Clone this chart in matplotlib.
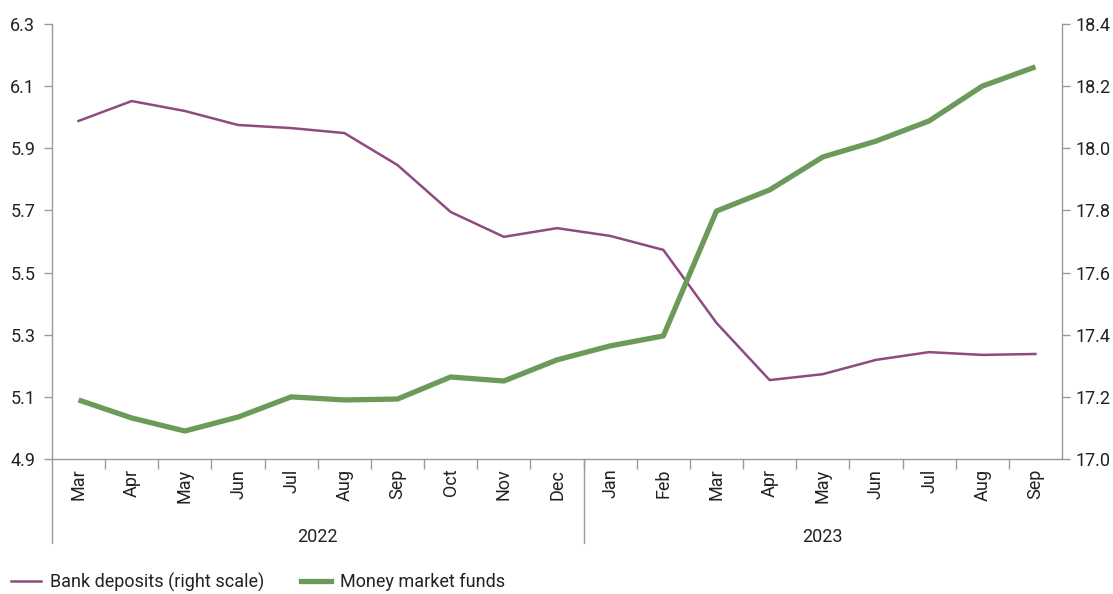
import matplotlib
matplotlib.use("Agg")
import matplotlib.pyplot as plt
import numpy as np
from matplotlib.lines import Line2D

plt.rcParams['font.family'] = ['Roboto', 'DejaVu Sans']

months = ["Mar", "Apr", "May", "Jun", "Jul", "Aug", "Sep", "Oct", "Nov", "Dec",
          "Jan", "Feb", "Mar", "Apr", "May", "Jun", "Jul", "Aug", "Sep"]
years = ["2022", "2023"]
money_market = [5.09, 5.032, 4.99, 5.035, 5.10, 5.09, 5.093, 5.164, 5.151, 5.219,
                5.264, 5.296, 5.698, 5.766, 5.872, 5.923, 5.988, 6.10, 6.162]
bank_deposits = [18.088, 18.152, 18.12, 18.075, 18.065, 18.049, 17.946, 17.795, 17.715, 17.743,
                 17.718, 17.673, 17.438, 17.254, 17.273, 17.319, 17.344, 17.335, 17.338]
left_ticks = [4.9, 5.1, 5.3, 5.5, 5.7, 5.9, 6.1, 6.3]
right_ticks = [17.0, 17.2, 17.4, 17.6, 17.8, 18.0, 18.2, 18.4]

purple = "#8f4a80"
green = "#6b9a59"
grey = "#9a9a9a"
txt = "#222222"
fs = 13

W, H = 1113, 594
fig = plt.figure(figsize=(W / 100, H / 100), dpi=100)
ax = fig.add_axes([52 / W, 1 - 459 / H, (1062 - 52) / W, (459 - 24) / H])
ax2 = ax.twinx()

x = np.arange(len(months))
ax.plot(x, money_market, color=green, lw=3.8, solid_capstyle='butt', zorder=3)
ax2.plot(x, bank_deposits, color=purple, lw=1.8, zorder=2)
ax.set_zorder(ax2.get_zorder() + 1)
ax.patch.set_visible(False)

ax.set_xlim(-0.5, len(months) - 0.5)
ax.set_ylim(4.9, 6.3)
ax2.set_ylim(17.0, 18.4)
ax.set_yticks(left_ticks)
ax.set_yticklabels([f"{v:.1f}" for v in left_ticks])
ax2.set_yticks(right_ticks)
ax2.set_yticklabels([f"{v:.1f}" for v in right_ticks])

for a in (ax, ax2):
    for s in a.spines.values():
        s.set_color(grey)
        s.set_linewidth(1.0)
    a.spines['top'].set_visible(False)
ax.spines['right'].set_visible(False)
ax2.spines['left'].set_visible(False)
ax2.spines['bottom'].set_visible(False)

ax.tick_params(axis='y', length=6, width=1, color=grey, labelsize=fs, labelcolor=txt, pad=6)
ax2.tick_params(axis='y', length=6, width=1, color=grey, labelsize=fs, labelcolor=txt, pad=4)

ax.set_xticks(x)
ax.set_xticklabels(months, rotation=90, fontsize=fs, color=txt)
ax.tick_params(axis='x', which='major', length=0, pad=7)
ax.set_xticks(np.arange(0.5, len(months) - 1, 1.0), minor=True)
ax.tick_params(axis='x', which='minor', length=7, width=1, color=grey)

tr = ax.get_xaxis_transform()
ext = -(543 - 459) / (459 - 24)
for xv in (-0.5, 9.5):
    ax.add_line(Line2D([xv, xv], [0, ext], transform=tr, color=grey, lw=1.0, clip_on=False))

ax.text(4.5, -(537 - 459) / (459 - 24), years[0], transform=tr, ha='center', va='center',
        fontsize=fs, color=txt)
ax.text(14.0, -(537 - 459) / (459 - 24), years[1], transform=tr, ha='center', va='center',
        fontsize=fs, color=txt)

handles = [Line2D([], [], color=purple, lw=1.8), Line2D([], [], color=green, lw=3.8)]
fig.legend(handles, ["Bank deposits (right scale)", "Money market funds"], loc='center left',
           bbox_to_anchor=(0.003, 1 - 582 / H), ncol=2, frameon=False, fontsize=fs,
           handlelength=1.7, handletextpad=0.5, columnspacing=2.0, labelcolor=txt,
           borderaxespad=0, borderpad=0.4)

fig.savefig("out.png", dpi=100)
